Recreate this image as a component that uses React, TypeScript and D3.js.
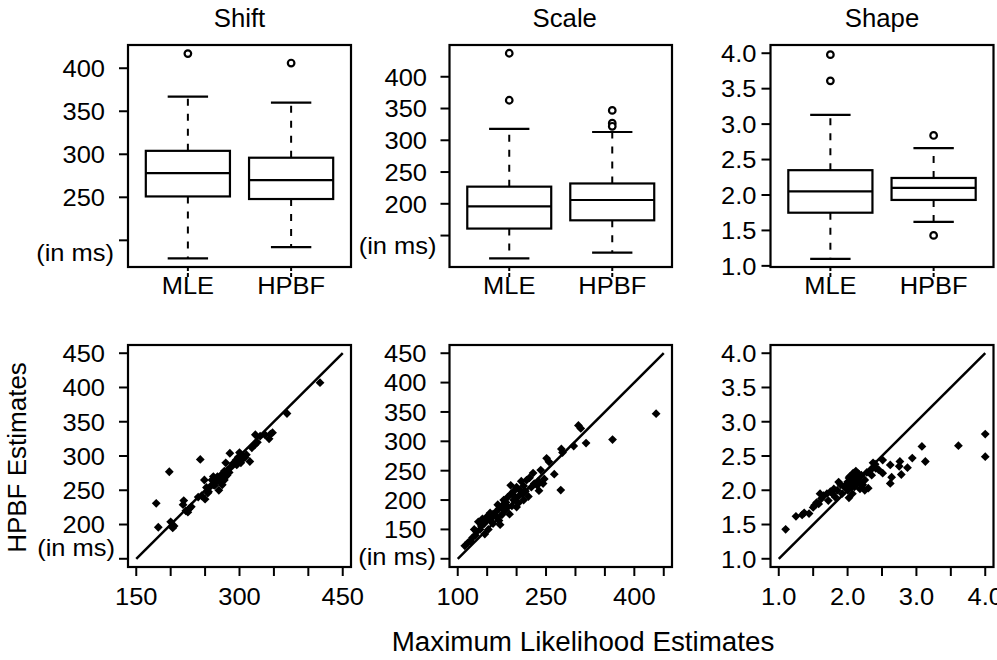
import React from "react";
import * as d3 from "d3";

const W = 997;
const H = 660;
const FONT = "'Liberation Sans', Arial, Helvetica, sans-serif";

// ---------- data ----------
const groups = ["MLE", "HPBF"];
const panelTitles = ["Shift", "Scale", "Shape"];

const shiftBox = [
  { min: 179, q1: 251, med: 278, q3: 304, max: 367, out: [417] },
  { min: 192, q1: 248, med: 270, q3: 296, max: 360, out: [406] },
];
const scaleBox = [
  { min: 114, q1: 161, med: 196, q3: 227, max: 318, out: [437, 363] },
  { min: 123, q1: 174, med: 206, q3: 232, max: 313, out: [347, 327, 322] },
];
const shapeBox = [
  { min: 1.1, q1: 1.75, med: 2.05, q3: 2.35, max: 3.13, out: [3.98, 3.61] },
  { min: 1.62, q1: 1.93, med: 2.1, q3: 2.24, max: 2.66, out: [2.84, 1.43] },
];

const shiftTicksTop = [200, 250, 300, 350, 400];
const scaleTicksTop = [150, 200, 250, 300, 350, 400];
const shapeTicksTop = [1.0, 1.5, 2.0, 2.5, 3.0, 3.5, 4.0];

const shiftTicks = [150, 200, 250, 300, 350, 400, 450];
const scaleTicks = [100, 150, 200, 250, 300, 350, 400, 450];
const shapeTicks = [1.0, 1.5, 2.0, 2.5, 3.0, 3.5, 4.0];
const shiftXLabels = [150, 300, 450];
const scaleXLabels = [100, 250, 400];
const shapeXLabels = [1.0, 2.0, 3.0, 4.0];

// scatter pairs: [MLE, HPBF]
const shiftPairs: [number, number][] = [
  [417, 407], [369, 362], [348, 334], [343, 325], [337, 331], [323, 331], [330, 329], [345, 332],
  [322, 316], [318, 312], [326, 320], [315, 292], [310, 302], [305, 300], [300, 305], [298, 298],
  [295, 294], [292, 290], [300, 293], [305, 296], [308, 298], [286, 304], [280, 290], [288, 284],
  [283, 280], [285, 276], [278, 278], [275, 274], [280, 270], [272, 268], [270, 264], [268, 270],
  [265, 262], [262, 258], [260, 265], [258, 256], [255, 248], [252, 254], [250, 237], [254, 246],
  [249, 265], [243, 295], [270, 250], [275, 258], [264, 257], [198, 277], [179, 231], [182, 196],
  [200, 204], [203, 195], [205, 198], [219, 235], [218, 229], [227, 223], [225, 218], [230, 226],
  [222, 220], [240, 240], [245, 242], [262, 270], [290, 288], [296, 287], [302, 290], [278, 265],
  [282, 272],
];
const scalePairs: [number, number][] = [
  [437, 347], [363, 303], [318, 297], [305, 327], [309, 322], [297, 292], [276, 287], [278, 281],
  [251, 271], [264, 244], [275, 217], [238, 216], [247, 236], [241, 251], [228, 246], [237, 232],
  [217, 234], [208, 232], [205, 217], [220, 206], [225, 222], [230, 228], [212, 224], [200, 222],
  [195, 215], [190, 210], [185, 205], [182, 196], [178, 200], [175, 190], [170, 185], [168, 192],
  [165, 180], [160, 176], [158, 170], [155, 178], [150, 172], [148, 165], [145, 160], [142, 168],
  [140, 156], [138, 150], [135, 163], [132, 146], [130, 140], [128, 150], [125, 136], [122, 130],
  [118, 128], [112, 122], [180, 182], [188, 176], [192, 190], [198, 205], [203, 195], [210, 210],
  [215, 215], [222, 238], [200, 188], [170, 165], [160, 160], [152, 150], [146, 142], [155, 165],
  [175, 175], [185, 188], [195, 200], [205, 208], [212, 200], [235, 225], [245, 228], [165, 172],
  [172, 158], [190, 225], [255, 265],
];
const shapePairs: [number, number][] = [
  [4.0, 2.82], [4.0, 2.49], [3.61, 2.65], [3.08, 2.64], [3.13, 2.42], [2.94, 2.47], [2.87, 2.33],
  [2.76, 2.42], [2.75, 2.35], [2.78, 2.23], [2.62, 2.37], [2.64, 2.19], [2.62, 2.1], [2.51, 2.44],
  [2.51, 2.25], [2.37, 2.4], [2.34, 2.3], [2.41, 2.32], [2.3, 2.03], [2.22, 2.08], [2.02, 1.89],
  [2.05, 2.1], [2.08, 2.15], [2.1, 2.2], [2.12, 2.25], [2.15, 2.18], [2.18, 2.12], [2.2, 2.22],
  [2.25, 2.15], [2.06, 2.05], [2.0, 2.0], [2.03, 2.2], [2.1, 2.05], [2.14, 2.1], [2.0, 2.12],
  [1.95, 2.05], [1.9, 2.08], [1.87, 2.12], [1.85, 2.0], [1.8, 2.02], [1.78, 1.95], [1.75, 1.98],
  [1.7, 1.95], [1.65, 1.92], [1.62, 1.88], [1.6, 1.95], [1.58, 1.8], [1.55, 1.82], [1.52, 1.78],
  [1.5, 1.75], [1.44, 1.66], [1.37, 1.67], [1.34, 1.64], [1.25, 1.62], [1.1, 1.43], [2.08, 2.25],
  [2.12, 2.28], [2.18, 2.02], [2.25, 2.0], [2.35, 2.22], [1.72, 1.85], [1.92, 1.95], [2.02, 2.18],
  [2.16, 2.24], [2.28, 2.26], [1.98, 2.08], [2.07, 1.95], [1.82, 1.9], [2.4, 2.38], [2.45, 2.3],
];

// ---------- layout ----------
const TOP = { y0: 45, y1: 267 };
const BOT = { y0: 345, y1: 567 };
const COLS: [number, number][] = [
  [128, 351],
  [449.5, 672],
  [770.5, 993.5],
];
const TICK_SX = 1.04;
const TICK_FS = 24.5;

type Stat = { min: number; q1: number; med: number; q3: number; max: number; out: number[] };

function Txt(props: {
  x: number; y: number; text: string; size: number; sx?: number; anchor?: string; rotate?: number;
}) {
  const { x, y, text, size, sx = 1, anchor = "middle", rotate = 0 } = props;
  return (
    <text
      transform={`translate(${x},${y}) rotate(${rotate}) scale(${sx},1)`}
      textAnchor={anchor as any}
      dominantBaseline="central"
      fontFamily={FONT}
      fontSize={size}
      fill="#000"
    >
      {text}
    </text>
  );
}

function fmtVal(v: number, decimal: boolean) {
  return decimal ? d3.format(".1f")(v) : String(v);
}

function BoxPanel(props: {
  col: number; domain: [number, number]; ticks: number[]; stats: Stat[];
  decimal: boolean; unitLabel?: { dx: number; dy: number }; labelGap: number;
}) {
  const { col, domain, ticks, stats, decimal, unitLabel, labelGap } = props;
  const [x0, x1] = COLS[col];
  const y = d3.scaleLinear().domain(domain).range([TOP.y1, TOP.y0]);
  const xp = d3.scalePoint<string>().domain(groups).range([x0, x1]).padding(0.58);
  const step = xp.step();
  const bw = step * 0.815;
  const cw = bw * 0.48;
  return (
    <g>
      {ticks.map((t, i) => (
        <g key={i}>
          <line x1={x0 - 9} x2={x0} y1={y(t)} y2={y(t)} stroke="#000" strokeWidth={2} />
          {!(unitLabel && i === 0) && (
            <Txt x={x0 - labelGap} y={y(t)} text={fmtVal(t, decimal)} size={TICK_FS} sx={TICK_SX} anchor="end" />
          )}
        </g>
      ))}
      {unitLabel && (
        <Txt x={x0 - labelGap + unitLabel.dx} y={y(ticks[0]) + unitLabel.dy} text="(in ms)" size={TICK_FS} sx={TICK_SX} anchor="end" />
      )}
      {groups.map((g, i) => {
        const cx = xp(g)!;
        const s = stats[i];
        return (
          <g key={g}>
            <line x1={cx} x2={cx} y1={TOP.y1} y2={TOP.y1 + 10} stroke="#000" strokeWidth={2} strokeDasharray="4,2" />
            <Txt x={cx} y={285.5} text={g} size={TICK_FS} sx={TICK_SX} />
            <line x1={cx} x2={cx} y1={y(s.q3)} y2={y(s.max)} stroke="#000" strokeWidth={2} strokeDasharray="7,8" />
            <line x1={cx} x2={cx} y1={y(s.q1)} y2={y(s.min)} stroke="#000" strokeWidth={2} strokeDasharray="7,8" />
            <line x1={cx - cw / 2} x2={cx + cw / 2} y1={y(s.max)} y2={y(s.max)} stroke="#000" strokeWidth={2.2} />
            <line x1={cx - cw / 2} x2={cx + cw / 2} y1={y(s.min)} y2={y(s.min)} stroke="#000" strokeWidth={2.2} />
            <rect x={cx - bw / 2} y={y(s.q3)} width={bw} height={y(s.q1) - y(s.q3)} fill="#fff" stroke="#000" strokeWidth={2.2} />
            <line x1={cx - bw / 2} x2={cx + bw / 2} y1={y(s.med)} y2={y(s.med)} stroke="#000" strokeWidth={2.2} />
            {s.out.map((o, j) => (
              <circle key={j} cx={cx} cy={y(o)} r={3.3} fill="#fff" stroke="#000" strokeWidth={2.2} />
            ))}
          </g>
        );
      })}
      <rect x={x0} y={TOP.y0} width={x1 - x0} height={TOP.y1 - TOP.y0} fill="none" stroke="#000" strokeWidth={2.2} />
    </g>
  );
}

function ScatterPanel(props: {
  col: number; domain: [number, number]; ticks: number[]; xLabels: number[];
  pairs: [number, number][]; decimal: boolean; unitLabel?: { dx: number; dy: number }; labelGap: number;
}) {
  const { col, domain, ticks, xLabels, pairs, decimal, unitLabel, labelGap } = props;
  const [x0, x1] = COLS[col];
  const x = d3.scaleLinear().domain(domain).range([x0, x1]);
  const y = d3.scaleLinear().domain(domain).range([BOT.y1, BOT.y0]);
  const lo = ticks[0];
  const hi = ticks[ticks.length - 1];
  const dm = 4.4;
  const diamond = (px: number, py: number) =>
    `M${px},${py - dm}L${px + dm},${py}L${px},${py + dm}L${px - dm},${py}Z`;
  return (
    <g>
      {ticks.map((t, i) => (
        <g key={i}>
          <line x1={x0 - 9} x2={x0} y1={y(t)} y2={y(t)} stroke="#000" strokeWidth={2} />
          {!(unitLabel && i === 0) && (
            <Txt x={x0 - labelGap} y={y(t)} text={fmtVal(t, decimal)} size={TICK_FS} sx={TICK_SX} anchor="end" />
          )}
          <line x1={x(t)} x2={x(t)} y1={BOT.y1} y2={BOT.y1 + 9} stroke="#000" strokeWidth={2} />
        </g>
      ))}
      {unitLabel && (
        <Txt x={x0 - labelGap + unitLabel.dx} y={y(ticks[0]) + unitLabel.dy} text="(in ms)" size={TICK_FS} sx={TICK_SX} anchor="end" />
      )}
      {xLabels.map((t) => (
        <Txt key={t} x={x(t)} y={596.5} text={fmtVal(t, decimal)} size={TICK_FS} sx={TICK_SX} />
      ))}
      <line x1={x(lo)} y1={y(lo)} x2={x(hi)} y2={y(hi)} stroke="#000" strokeWidth={2.5} />
      {pairs.map((p, i) => (
        <path key={i} d={diamond(x(p[0]), y(p[1]))} fill="#000" />
      ))}
      <rect x={x0} y={BOT.y0} width={x1 - x0} height={BOT.y1 - BOT.y0} fill="none" stroke="#000" strokeWidth={2.2} />
    </g>
  );
}

export default function App() {
  return (
    <svg
      width={W}
      height={H}
      viewBox={`0 0 ${W} ${H}`}
      style={{ position: "absolute", left: 0, top: 0, background: "#fff" }}
    >
      <rect x={0} y={0} width={W} height={H} fill="#fff" />
      {panelTitles.map((t, i) => (
        <Txt key={t} x={(COLS[i][0] + COLS[i][1]) / 2 + (i === 1 ? 4 : 0)} y={18} text={t} size={25} sx={1.03} />
      ))}
      <BoxPanel col={0} domain={[169, 427]} ticks={shiftTicksTop} stats={shiftBox} decimal={false}
        unitLabel={{ dx: 9, dy: 12 }} labelGap={23} />
      <BoxPanel col={1} domain={[100.5, 450]} ticks={scaleTicksTop} stats={scaleBox} decimal={false}
        unitLabel={{ dx: 9.5, dy: 10 }} labelGap={22.5} />
      <BoxPanel col={2} domain={[0.984, 4.116]} ticks={shapeTicksTop} stats={shapeBox} decimal={true}
        labelGap={14} />

      <ScatterPanel col={0} domain={[138, 462]} ticks={shiftTicks} xLabels={shiftXLabels} pairs={shiftPairs}
        decimal={false} unitLabel={{ dx: 10, dy: -11.5 }} labelGap={23} />
      <ScatterPanel col={1} domain={[86, 464]} ticks={scaleTicks} xLabels={scaleXLabels} pairs={scalePairs}
        decimal={false} unitLabel={{ dx: 9.5, dy: -2.5 }} labelGap={23} />
      <ScatterPanel col={2} domain={[0.88, 4.12]} ticks={shapeTicks} xLabels={shapeXLabels} pairs={shapePairs}
        decimal={true} labelGap={14} />

      <Txt x={17} y={457.5} text="HPBF Estimates" size={26} sx={1.0} rotate={-90} />
      <Txt x={583} y={642} text="Maximum Likelihood Estimates" size={27.5} sx={1.01} />
    </svg>
  );
}
